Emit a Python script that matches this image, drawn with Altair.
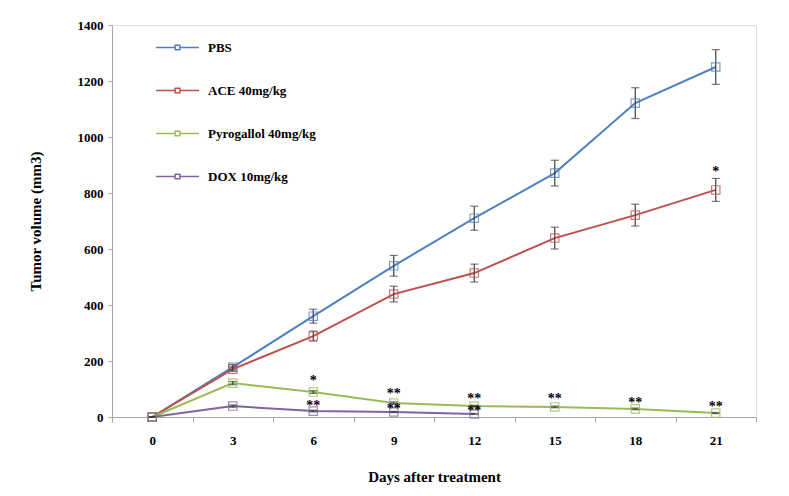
import altair as alt
import pandas as pd

days = [0, 3, 6, 9, 12, 15, 18, 21]
series_names = ["PBS", "ACE 40mg/kg", "Pyrogallol 40mg/kg", "DOX 10mg/kg"]
colors = ["#4f81bd", "#c0504d", "#9bbb59", "#8064a2"]

pbs = [0, 178, 360, 540, 710, 871, 1121, 1250]
pbs_err = [0, 10, 25, 37, 43, 46, 55, 62]
ace = [0, 171, 289, 439, 514, 639, 721, 811]
ace_err = [0, 8, 18, 28, 32, 39, 39, 41]
pyro = [0, 121, 89, 50, 39, 36, 29, 14]
pyro_err = [0, 6, 5, 4, 3, 3, 3, 2]
dox = [0, 39, 21, 18, 11]
dox_err = [0, 4, 3, 2, 2]

# significance annotations: (day, y position, label)
ann_days = [21, 6, 9, 12, 15, 18, 21, 6, 9, 12]
ann_y = [885, 140, 92, 74, 74, 60, 46, 50, 40, 33]
ann_text = ["*", "*", "**", "**", "**", "**", "**", "**", "**", "**"]

rows = []
for name, vals, errs in [
    (series_names[0], pbs, pbs_err),
    (series_names[1], ace, ace_err),
    (series_names[2], pyro, pyro_err),
    (series_names[3], dox, dox_err),
]:
    for d, v, e in zip(days, vals, errs):
        rows.append({"day": d, "group": name, "vol": v, "lo": v - e, "hi": v + e})
df = pd.DataFrame(rows)
ann = pd.DataFrame({"day": ann_days, "y": ann_y, "txt": ann_text})

FONT = "Liberation Serif"
legend_symbol = "M-1,0H-0.11M0.11,0H1M-0.11,-0.11H0.11V0.11H-0.11Z"

xscale = alt.Scale(domain=[-1.5, 22.5], nice=False, zero=False)
yscale = alt.Scale(domain=[0, 1400], nice=False)
cscale = alt.Scale(domain=series_names, range=colors)

x_ticks_axis = alt.Axis(
    values=[-1.5 + 3 * i for i in range(9)], labels=False, title=None,
    tickSize=5, tickColor="#a6a6a6", domainColor="#a6a6a6", grid=False,
    orient="bottom",
)
x_label_axis = alt.Axis(
    values=days, ticks=False, domain=False, grid=False, orient="bottom",
    title="Days after treatment", labelPadding=17, titlePadding=22,
    labelFont=FONT, labelFontWeight="bold", labelFontSize=13, labelColor="black",
    titleFont=FONT, titleFontWeight="bold", titleFontSize=15, titleColor="black",
)
y_axis = alt.Axis(
    values=list(range(0, 1401, 200)), format="d", grid=False, tickSize=4,
    tickColor="#a6a6a6", domainColor="#a6a6a6", labelPadding=5,
    title="Tumor volume (mm3)",
    labelFont=FONT, labelFontWeight="bold", labelFontSize=13, labelColor="black",
    titleFont=FONT, titleFontWeight="bold", titleFontSize=15, titleColor="black",
    titlePadding=34,
)

base = alt.Chart(df)
X_noaxis = alt.X("day:Q", scale=xscale, axis=None)

lines = base.mark_line(strokeWidth=2).encode(
    x=alt.X("day:Q", scale=xscale, axis=x_ticks_axis),
    y=alt.Y("vol:Q", scale=yscale, axis=y_axis),
    color=alt.Color(
        "group:N", scale=cscale, sort=series_names,
        legend=alt.Legend(
            title=None, orient="none", legendX=43, legendY=0,
            symbolType=legend_symbol, symbolSize=1849, symbolStrokeWidth=1.5,
            symbolFillColor="transparent",
            labelFont=FONT, labelFontWeight="bold", labelFontSize=13,
            labelColor="black", rowPadding=13, labelOffset=8,
        ),
    ),
    detail="group:N",
)

err = base.mark_rule(color="#404040", strokeWidth=1.2).encode(
    x=X_noaxis,
    y=alt.Y("lo:Q", scale=yscale),
    y2="hi:Q",
)
cap_lo = base.mark_tick(color="#404040", thickness=1.2, size=8, orient="horizontal").encode(
    x=X_noaxis, y=alt.Y("lo:Q", scale=yscale)
)
cap_hi = base.mark_tick(color="#404040", thickness=1.2, size=8, orient="horizontal").encode(
    x=X_noaxis, y=alt.Y("hi:Q", scale=yscale)
)

pts = base.mark_point(shape="square", size=70, filled=False, strokeWidth=1.2, opacity=0.75).encode(
    x=X_noaxis,
    y=alt.Y("vol:Q", scale=yscale),
    color=alt.Color("group:N", scale=cscale, legend=None),
)

labels_layer = alt.Chart(pd.DataFrame({"day": days})).mark_text(opacity=0, text=" ").encode(
    x=alt.X("day:Q", scale=xscale, axis=x_label_axis),
    y=alt.value(0),
)

stars = alt.Chart(ann).mark_text(
    font=FONT, fontWeight="bold", fontSize=14, fill="black", baseline="middle", dy=3
).encode(
    x=X_noaxis,
    y=alt.Y("y:Q", scale=yscale),
    text="txt:N",
)

chart = alt.layer(lines, err, cap_lo, cap_hi, pts, stars, labels_layer).resolve_axis(
    x="independent"
).properties(
    width=644, height=392,
    autosize=alt.AutoSizeParams(type="none"),
    padding={"left": 104, "top": 17, "right": 20, "bottom": 70},
).configure_view(stroke=None).configure(background="white")

chart.save("out.html", embed_options={"renderer": "svg", "actions": False})
